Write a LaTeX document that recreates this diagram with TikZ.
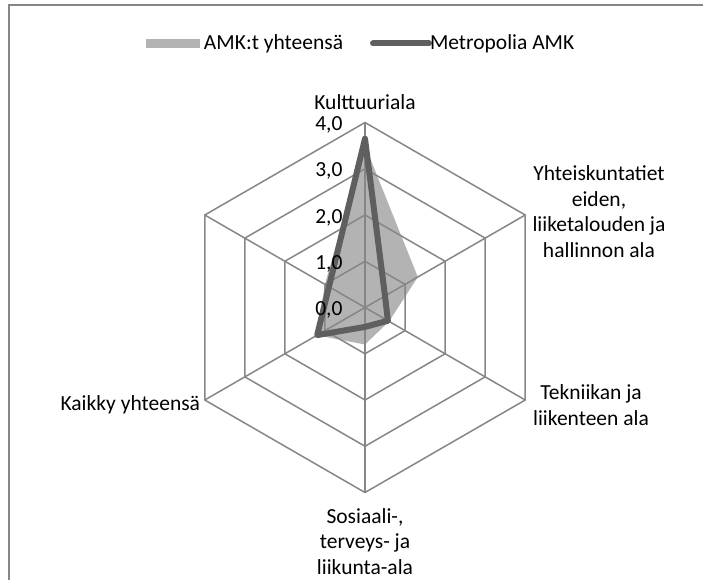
\documentclass[tikz,border=0pt]{standalone}
\usepackage{fontspec}
\setmainfont{Carlito}
\definecolor{gridc}{RGB}{134,134,134}
\definecolor{fillc}{RGB}{179,179,179}
\definecolor{linec}{RGB}{95,95,95}
\begin{document}
\begin{tikzpicture}[x=1pt,y=1pt,
  every node/.style={inner sep=0pt, outer sep=0pt, font=\fontsize{21.5}{25.5}\selectfont},
  gridline/.style={draw=gridc, line width=1.5pt},
  serieA/.style={fill=fillc},
  serieB/.style={draw=linec, line width=6pt, line join=round, line cap=round},
  catlabel/.style={align=center},
  vallabel/.style={anchor=east}]
\useasboundingbox (-365,-271.5) rectangle (338,307.5);
\fill[white] (-365,-271.5) rectangle (338,307.5);
% frame
\draw[gridc, line width=2pt] (-355.5,-280) -- (-355.5,302.5) -- (345,302.5);
% series A (filled)
\fill[serieA] (90:161.9) -- (30:61.0) -- (-30:27.8) -- (-90:37.0) -- (210:55.5) -- (150:46.3) -- cycle;
% grid
\foreach \r in {46.25,92.5,138.75,185}
  \draw[gridline] (90:\r) -- (30:\r) -- (-30:\r) -- (-90:\r) -- (210:\r) -- (150:\r) -- cycle;
\foreach \a in {90,30,-30,-90,210,150}
  \draw[gridline] (0,0) -- (\a:185);
% series B (line)
\draw[serieB] (90:168.8) -- (30:23.1) -- (-30:26.4) -- (-90:19.4) -- (210:55.2) -- (150:41.6) -- cycle;
% value labels
\foreach \v/\t in {0/{0,0},1/{1,0},2/{2,0},3/{3,0},4/{4,0}}
  \node[vallabel] (v\v) at (-22.5,{\v*46.25-2.5}) {\t};
% category labels
\node[catlabel] (kult) at (0,205.8) {Kulttuuriala};
\node[catlabel] (yht) at (234,96) {Yhteiskuntatiet\\eiden,\\liiketalouden ja\\hallinnon ala};
\node[catlabel] (tek) at (226,-97.5) {Tekniikan ja\\liikenteen ala};
\node[catlabel] (sos) at (0,-234) {Sosiaali-,\\terveys- ja\\liikunta-ala};
\node[anchor=east] (kaik) at (-165,-97.5) {Kaikky yhteensä};
% legend
\fill[fillc] (-219,259.5) rectangle (-165,268.5);
\node[anchor=west] (legA) at (-161,264) {AMK:t yhteensä};
\coordinate (lbS) at (8,264);
\coordinate (lbE) at (64,264);
\draw[serieB] (lbS) -- (lbE);
\node[anchor=west] (legB) at (65,264) {Metropolia AMK};
\end{tikzpicture}
\end{document}
